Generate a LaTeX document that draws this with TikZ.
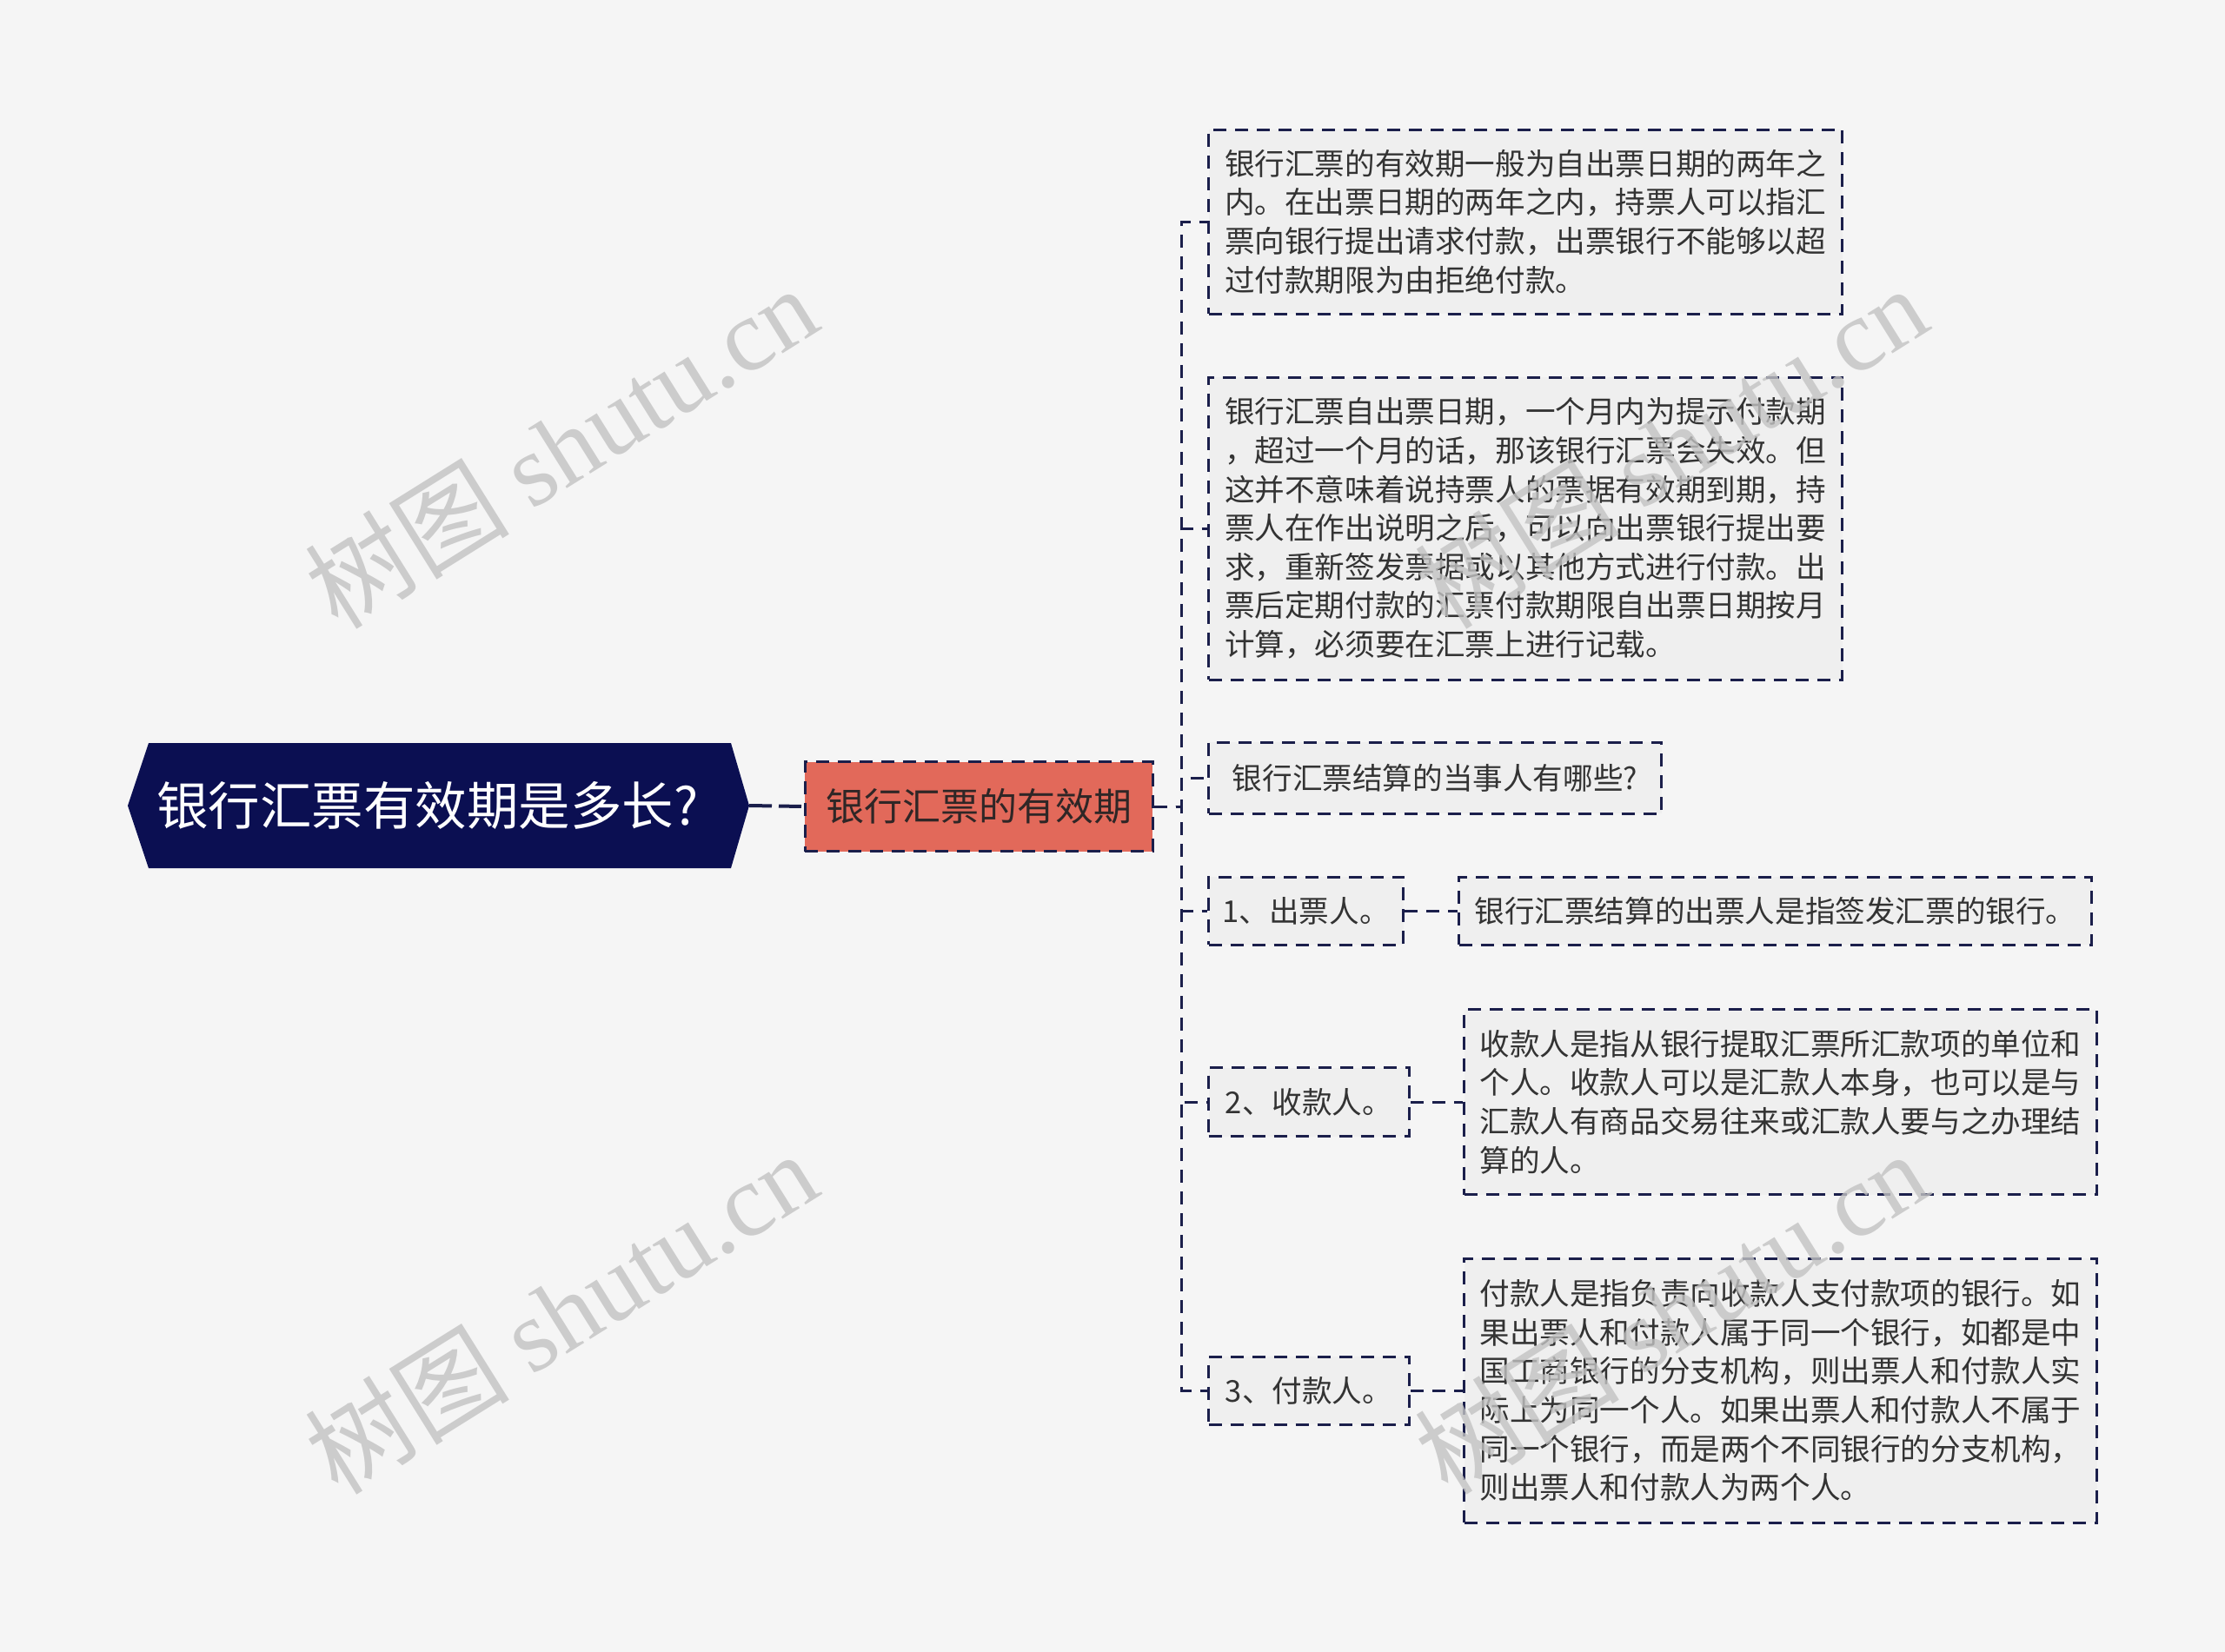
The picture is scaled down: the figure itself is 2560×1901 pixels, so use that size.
\documentclass[tikz,border=0pt]{standalone}
\usepackage{fontspec}
\setmainfont{Noto Sans CJK SC}
\newfontfamily\wmlatin{Liberation Serif}
\usetikzlibrary{calc,backgrounds}
\definecolor{bg}{HTML}{F5F5F5}
\definecolor{navy}{HTML}{0B0F52}
\definecolor{edge}{HTML}{1B1F4B}
\definecolor{salmon}{HTML}{E2695A}
\definecolor{leafbg}{HTML}{EFEFEF}
\definecolor{txt}{HTML}{333333}
\definecolor{midtxt}{HTML}{2F2626}
\definecolor{wm}{HTML}{C2C2C2}
\begin{document}
\begin{tikzpicture}[x=1pt,y=-1pt,
  dsh/.style={dash pattern=on 15pt off 10pt, line width=3pt, draw=edge},
  leaf/.style={dsh, fill=leafbg, text=txt, align=left, inner sep=0pt,
    font=\fontsize{34.6}{44.6}\selectfont, anchor=west},
  conn/.style={dsh},
  wmark/.style={text=wm, opacity=0.8, rotate=32, inner sep=0pt,
    font=\fontsize{118}{118}\selectfont}]
\useasboundingbox (0,0) rectangle (2560,1901);
\begin{scope}[on background layer]
  \fill[bg] (0,0) rectangle (2560,1901);
  \fill[navy] (147,927) -- (171,855) -- (841,855) -- (862,927) -- (841,999) -- (171,999) -- cycle;
\end{scope}
\coordinate (rootE) at (862,927);
\node[inner sep=0pt, text=white, font=\fontsize{59.5}{59.5}\selectfont] (root) at (492,927) {银行汇票有效期是多长?};

\node[dsh, fill=salmon, minimum width=400pt, minimum height=103pt, inner sep=0pt,
  text=midtxt, font=\fontsize{44}{44}\selectfont] (mid) at (1126,928) {银行汇票的有效期};

\draw[dash pattern=on 26pt off 8pt, line width=4pt, draw=edge] (rootE) -- (mid.west);

\node[leaf, minimum width=729pt, minimum height=212pt] (a1) at (1389,255) {银行汇票的有效期一般为自出票日期的两年之\\内。在出票日期的两年之内，持票人可以指汇\\票向银行提出请求付款，出票银行不能够以超\\过付款期限为由拒绝付款。};
\node[leaf, minimum width=729pt, minimum height=348pt] (a2) at (1389,608) {银行汇票自出票日期，一个月内为提示付款期\\，超过一个月的话，那该银行汇票会失效。但\\这并不意味着说持票人的票据有效期到期，持\\票人在作出说明之后，可以向出票银行提出要\\求，重新签发票据或以其他方式进行付款。出\\票后定期付款的汇票付款期限自出票日期按月\\计算，必须要在汇票上进行记载。};
\node[leaf, minimum width=521pt, minimum height=82pt] (a3) at (1389,895) {银行汇票结算的当事人有哪些?};
\node[leaf, minimum width=224pt, minimum height=78pt] (a4) at (1389,1048) {1、出票人。};
\node[leaf, minimum width=728pt, minimum height=78pt] (b4) at (1677,1048) {银行汇票结算的出票人是指签发汇票的银行。};
\node[leaf, minimum width=231pt, minimum height=79pt] (a5) at (1389,1268) {2、收款人。};
\node[leaf, minimum width=728pt, minimum height=213pt] (b5) at (1683,1268) {收款人是指从银行提取汇票所汇款项的单位和\\个人。收款人可以是汇款人本身，也可以是与\\汇款人有商品交易往来或汇款人要与之办理结\\算的人。};
\node[leaf, minimum width=231pt, minimum height=78pt] (a6) at (1389,1600) {3、付款人。};
\node[leaf, minimum width=728pt, minimum height=304pt] (b6) at (1683,1600) {付款人是指负责向收款人支付款项的银行。如\\果出票人和付款人属于同一个银行，如都是中\\国工商银行的分支机构，则出票人和付款人实\\际上为同一个人。如果出票人和付款人不属于\\同一个银行，而是两个不同银行的分支机构，\\则出票人和付款人为两个人。};

\coordinate (trunk) at ($(mid.east)+(32,0)$);
\foreach \t in {a1,a2,a3,a4,a5,a6}{
  \draw[conn] (mid.east) -- (trunk) |- (\t.west);
}
\draw[conn] (a4.east) -- (b4.west);
\draw[conn] (a5.east) -- (b5.west);
\draw[conn] (a6.east) -- (b6.west);

\node[wmark] (w1) at (645,514) {树图 {\wmlatin shutu.cn}};
\node[wmark] (w2) at (645,1510) {树图 {\wmlatin shutu.cn}};
\node[wmark] (w3) at (1922,514) {树图 {\wmlatin shutu.cn}};
\node[wmark] (w4) at (1922,1510) {树图 {\wmlatin shutu.cn}};
\end{tikzpicture}
\end{document}
